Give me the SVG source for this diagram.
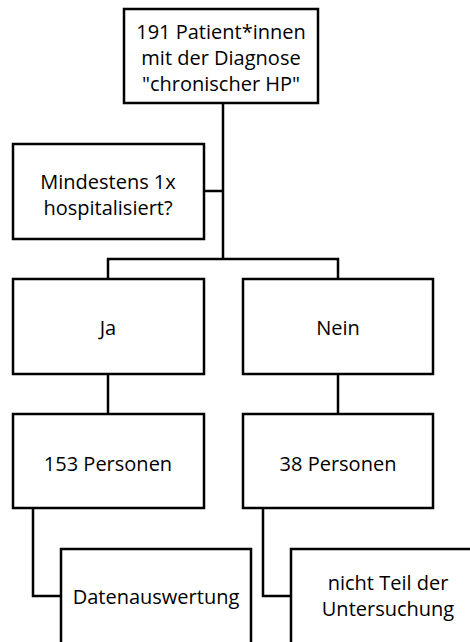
<svg xmlns="http://www.w3.org/2000/svg" width="470" height="642" viewBox="0 0 470 642">
<style>
.box{fill:#fff;stroke:#000;stroke-width:2.5}
.con{fill:none;stroke:#000;stroke-width:2.5}
text{font-family:"Open Sans","Liberation Sans",sans-serif;font-size:20px;fill:#000;text-anchor:middle;dominant-baseline:central}
</style>
<rect width="470" height="642" fill="#fff"/>
<g id="connectors">
<path class="con" d="M223,103 V259"/>
<path class="con" d="M204,191 H223"/>
<path class="con" d="M108,279 V259 H338 V279"/>
<path class="con" d="M108,374 V414"/>
<path class="con" d="M338,374 V414"/>
<path class="con" d="M33,508 V596 H61"/>
<path class="con" d="M263,508 V596 H291"/>
</g>
<g id="n-start">
<rect class="box" x="124" y="9" width="194" height="94"/>
<text x="221" y="31">191 Patient*innen</text>
<text x="221" y="57">mit der Diagnose</text>
<text x="221" y="83">"chronischer HP"</text>
</g>
<g id="n-question">
<rect class="box" x="13" y="144" width="191" height="95"/>
<text x="108" y="181">Mindestens 1x</text>
<text x="108" y="207">hospitalisiert?</text>
</g>
<g id="n-ja">
<rect class="box" x="13" y="279" width="191" height="95"/>
<text x="108" y="327">Ja</text>
</g>
<g id="n-nein">
<rect class="box" x="243" y="279" width="190" height="95"/>
<text x="338" y="327">Nein</text>
</g>
<g id="n-153">
<rect class="box" x="13" y="414" width="191" height="94"/>
<text x="108" y="463">153 Personen</text>
</g>
<g id="n-38">
<rect class="box" x="243" y="414" width="190" height="94"/>
<text x="338" y="463">38 Personen</text>
</g>
<g id="n-daten">
<rect class="box" x="61" y="549" width="190" height="110"/>
<text x="156" y="596">Datenauswertung</text>
</g>
<g id="n-nicht">
<rect class="box" x="291" y="549" width="194" height="110"/>
<text x="388" y="582">nicht Teil der</text>
<text x="388" y="608">Untersuchung</text>
</g>
</svg>
